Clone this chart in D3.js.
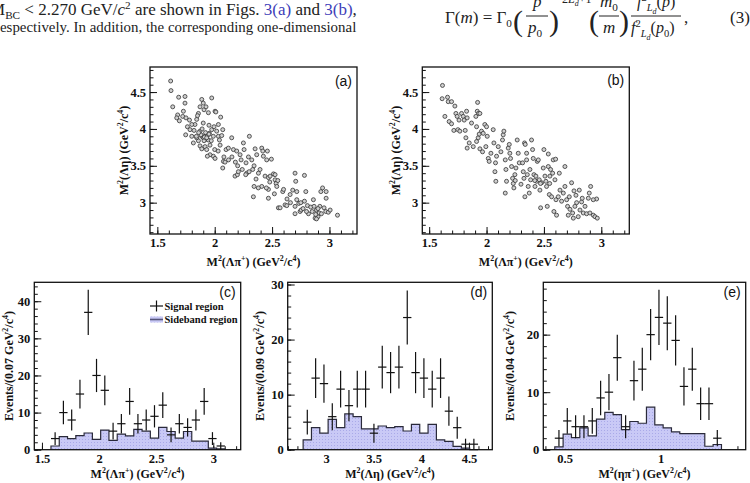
<!DOCTYPE html>
<html>
<head>
<meta charset="utf-8">
<script src="https://cdn.jsdelivr.net/npm/d3@7"></script>
<style>
body { margin: 0; background: #fff; }
svg { display: block; }
</style>
</head>
<body>
<svg id="fig" width="750" height="483"></svg>
<script>
// Dalitz plot, signal region (a): [M2(Lambda pi+), M2(Lambda eta)]
const dalitzSignal = [
  [1.616,4.65],[1.619,4.52],[1.634,4.30],[1.686,4.43],[1.741,4.44],[1.677,4.19],[1.669,4.15],[1.692,4.11],
  [1.727,4.24],[1.741,4.35],[1.721,4.17],[1.75,4.15],[1.762,4.03],[1.785,3.99],[1.747,3.92],[1.80,3.90],
  [1.814,3.81],[1.828,4.06],[1.843,4.13],[1.858,4.21],[1.872,4.30],[1.887,4.40],[1.90,4.35],[1.907,4.26],
  [1.924,4.30],[1.945,4.22],[1.974,4.42],[2.003,4.24],[2.01,4.23],[2.052,4.16],[1.872,3.97],[1.887,3.90],
  [1.90,3.88],[1.916,3.90],[1.924,3.86],[1.936,3.91],[1.945,3.85],[1.907,3.84],[1.858,3.84],[1.843,3.88],
  [1.872,3.77],[1.887,3.73],[1.916,3.76],[1.93,3.72],[1.959,3.78],[1.953,3.94],[1.974,3.99],[1.988,3.90],
  [1.994,4.03],[2.017,3.97],[2.032,3.90],[2.041,3.85],[2.047,3.78],[2.032,4.06],[2.061,3.91],[2.07,3.99],
  [1.988,3.63],[1.959,3.65],[1.936,3.63],[2.003,3.60],[2.076,3.56],[2.07,3.47],[2.099,3.72],[2.119,3.74],
  [2.148,3.88],[2.163,3.72],[2.192,3.70],[2.177,3.36],[2.198,3.38],[2.206,3.42],[2.221,3.65],[2.23,3.58],
  [2.25,3.81],[2.256,3.72],[2.273,3.54],[2.279,3.40],[2.294,3.62],[2.302,3.90],[2.323,3.58],[2.331,3.45],
  [2.343,3.50],[2.352,3.73],[2.366,3.65],[2.343,3.22],[2.337,3.08],[2.381,3.40],[2.395,3.45],[2.41,3.74],
  [2.419,3.70],[2.424,3.63],[2.41,3.22],[2.439,3.36],[2.453,3.58],[2.459,3.70],[2.468,3.34],[2.483,3.36],
  [2.494,3.59],[2.468,3.18],[2.468,3.06],[2.512,3.39],[2.526,3.31],[2.526,3.38],[2.535,3.26],[2.541,3.22],
  [2.555,2.93],[2.57,2.93],[2.593,3.15],[2.613,2.97],[2.628,2.96],[2.657,3.11],[2.68,3.17],[2.70,3.40],
  [2.706,3.29],[2.715,3.15],[2.715,3.04],[2.70,2.95],[2.70,2.85],[2.733,2.99],[2.744,2.88],[2.753,2.90],
  [2.782,3.02],[2.794,3.15],[2.782,3.37],[2.808,2.96],[2.817,2.85],[2.837,2.94],[2.86,3.04],[2.887,2.90],
  [2.90,2.81],[2.916,2.95],[2.91,2.86],[2.925,3.15],[2.94,3.20],[2.953,2.93],[2.968,2.88],[2.971,3.06],
  [2.99,2.87],[2.971,3.15],[2.866,2.95],[2.875,2.79],[2.887,2.78],[3.07,2.83],[3.006,2.90],
  [1.88,3.92],[1.91,3.89],[1.93,3.88],[1.92,3.95],[1.95,3.93],[1.89,4.00],[1.86,3.95],[1.84,3.90],
  [1.90,4.08],[1.95,4.05],[1.97,3.84],[1.85,4.18],[1.80,4.06],[1.78,4.12],[1.82,3.98],[2.00,3.72],
  [2.03,3.70],[2.08,3.62],[2.12,3.58],[2.09,3.55],[2.15,3.62],[2.18,3.55],[2.20,3.50],[2.24,3.45],
  [2.27,3.38],[2.30,3.42],[2.36,3.32],[2.38,3.20],[2.45,3.20],[2.48,3.28],[2.52,3.12],[2.55,3.30],
  [2.60,3.18],[2.63,3.05],[2.66,3.00],[2.75,3.00],[2.77,2.92],[2.80,2.88],[2.85,2.88],[2.88,2.84],
  [2.90,2.92],[2.93,2.85]
];

// Dalitz plot, sideband region (b)
const dalitzSideband = [
  [1.616,4.59],[1.613,4.41],[1.637,4.17],[1.66,4.43],[1.666,4.37],[1.695,4.37],[1.674,4.10],[1.695,4.07],
  [1.715,3.98],[1.724,4.31],[1.733,4.21],[1.744,4.17],[1.76,4.12],[1.75,3.99],[1.767,3.97],[1.782,4.21],
  [1.797,4.17],[1.805,4.12],[1.814,3.98],[1.826,4.24],[1.831,4.15],[1.82,3.88],[1.831,3.74],[1.849,3.81],
  [1.869,4.08],[1.884,3.76],[1.913,4.03],[1.907,4.17],[1.919,4.24],[1.93,4.21],[1.942,4.21],[1.922,4.36],
  [1.913,3.83],[1.927,3.88],[1.936,3.93],[1.956,3.97],[1.971,3.94],[1.942,3.73],[1.965,3.69],[1.985,4.06],
  [2.00,4.03],[2.006,3.90],[1.994,3.76],[2.015,3.60],[2.023,3.56],[2.038,3.67],[2.058,3.99],[2.064,3.81],
  [2.078,3.54],[2.073,3.42],[2.081,3.29],[2.087,3.63],[2.102,3.76],[2.125,3.69],[2.139,3.85],[2.145,3.92],
  [2.151,3.97],[2.163,3.58],[2.169,3.45],[2.163,3.13],[2.174,3.29],[2.189,3.74],[2.198,3.79],[2.203,3.67],
  [2.209,3.60],[2.218,3.49],[2.227,3.33],[2.233,3.26],[2.238,3.20],[2.247,3.38],[2.256,3.47],[2.267,3.85],
  [2.276,3.67],[2.285,3.54],[2.314,3.54],[2.32,3.42],[2.326,3.33],[2.331,3.81],[2.337,3.79],[2.349,3.67],
  [2.349,3.58],[2.355,3.38],[2.363,3.22],[2.372,3.13],[2.334,3.08],[2.378,3.45],[2.384,3.31],[2.392,3.85],
  [2.401,3.72],[2.407,3.60],[2.413,3.38],[2.422,3.22],[2.43,3.36],[2.436,3.29],[2.442,3.56],[2.451,3.58],
  [2.459,3.31],[2.465,3.17],[2.471,2.93],[2.48,3.27],[2.494,3.47],[2.50,3.72],[2.509,3.36],[2.517,3.29],
  [2.523,3.22],[2.529,2.95],[2.538,3.49],[2.538,3.66],[2.547,3.11],[2.552,3.36],[2.558,3.45],[2.567,3.08],
  [2.576,3.40],[2.581,3.58],[2.587,2.88],[2.596,3.31],[2.602,3.59],[2.605,3.04],[2.61,2.83],[2.625,3.08],
  [2.634,3.40],[2.64,3.17],[2.654,3.02],[2.669,3.13],[2.683,3.49],[2.683,3.22],[2.698,3.04],[2.706,2.95],
  [2.712,2.83],[2.721,3.08],[2.727,2.91],[2.741,3.27],[2.75,2.86],[2.756,2.79],[2.762,3.16],[2.77,2.95],
  [2.779,3.10],[2.785,3.00],[2.799,2.81],[2.808,3.17],[2.814,2.90],[2.828,3.01],[2.834,3.06],[2.843,2.86],
  [2.858,2.95],[2.872,2.85],[2.887,3.06],[2.895,3.13],[2.901,2.86],[2.907,3.22],[2.93,2.83],[2.945,2.81],
  [2.959,3.05],[2.965,2.79],[2.93,3.04],[2.25,3.30],[2.30,3.25],[2.42,3.30],[2.47,3.26],[2.55,3.26]
];

// 1-D projections: bin start, bin width, signal counts, sideband counts
const binsC = { start: 1.579, width: 0.0725 };
const signalC = [3, 10, 8, 15, 37, 20, 16, 5, 7, 13, 7, 8, 9, 12, 4, 7, 6, 8, 13, 3, 1];
const sidebandC = [1, 3.5, 3, 3.8, 4.5, 2.8, 5.3, 2.5, 4.2, 3.7, 5.5, 5, 3.1, 6, 4.9, 3.1, 4.9, 2.3, 2.3, 0.4, 0.2];

const binsD = { start: 2.760, width: 0.0874 };
const signalD = [5, 13, 12, 6, 11, 8, 11, 11, 3, 15, 14, 15, 24, 14, 13, 11, 13, 7, 4, 1, 1];
const sidebandD = [1.8, 4, 3, 5.5, 4, 6.5, 6, 3.8, 3.8, 4.3, 4, 4.2, 3.4, 4.6, 3, 4.6, 1.8, 1.5, 0.6, 0.3, 0];

const binsE = { start: 0.4488, width: 0.0434 };
const signalE = [2, 5, 4, 4, 5, 9, 10, 16, 4, 12, 14, 20, 23, 22, 19, 11, 14, 8, 8, 2];
const sidebandE = [0.5, 2.7, 2.1, 3.8, 2.4, 5.3, 6.5, 6.1, 3.5, 4.9, 4.6, 7.4, 4.3, 3.8, 3.1, 2.8, 2.8, 2.8, 0.6, 0.9];

// tick labels
const ticksM2LamPi = [1.5, 2, 2.5, 3];
const ticksM2LamEta = [3, 3.5, 4, 4.5];
const ticksM2EtaPi = [0.5, 1];
const ticksEventsC = [0, 10, 20, 30, 40];
const ticksEventsD = [0, 10, 20, 30];
const ticksEventsE = [0, 10, 20];

const svg = d3.select("#fig");
const serif = '"Liberation Serif", "Times New Roman", serif';
const sans = '"Liberation Sans", Arial, sans-serif';

// write a text made of normal / sup / sub pieces
function rich(t, parts, size) {
  let shift = 0;
  parts.forEach(p => {
    const kind = p[1] || "";
    const small = kind === "sup" || kind === "sub" || kind === "subsub";
    const target = kind === "sup" ? -size * 0.38 : kind === "sub" ? size * 0.25 : kind === "subsub" ? size * 0.42 : 0;
    const ts = t.append("tspan").attr("dy", target - shift).text(p[0]);
    shift = target;
    if (small) ts.attr("font-size", kind === "subsub" ? size * 0.5 : size * 0.66);
    if (p[2]) Object.keys(p[2]).forEach(k => ts.attr(k, p[2][k]));
  });
  return t;
}

function panel(box, xDom, yDom, xMajor, xMinor, yMajor, yMinor) {
  const x = d3.scaleLinear().domain(xDom).range([box.x, box.x + box.w]);
  const y = d3.scaleLinear().domain(yDom).range([box.y + box.h, box.y]);
  const g = svg.append("g");
  const fmt = d => String(d);
  g.append("g").attr("transform", "translate(0," + (box.y + box.h) + ")")
    .call(d3.axisBottom(x).tickValues(xMinor).tickSize(-3.5).tickFormat(""));
  g.append("g").attr("transform", "translate(0," + (box.y + box.h) + ")")
    .call(d3.axisBottom(x).tickValues(xMajor).tickSize(-7).tickPadding(4).tickFormat(fmt));
  g.append("g").attr("transform", "translate(" + box.x + ",0)")
    .call(d3.axisLeft(y).tickValues(yMinor).tickSize(-3.5).tickFormat(""));
  g.append("g").attr("transform", "translate(" + box.x + ",0)")
    .call(d3.axisLeft(y).tickValues(yMajor).tickSize(-7).tickPadding(4).tickFormat(fmt));
  g.selectAll(".domain").remove();
  g.selectAll(".tick line").attr("stroke", "#111").attr("stroke-width", 1);
  g.selectAll(".tick text")
    .attr("font-family", serif).attr("font-weight", "bold")
    .attr("font-size", 12.5).attr("fill", "#111");
  return { x, y, g, box };
}

function frame(p) {
  p.g.append("rect")
    .attr("x", p.box.x).attr("y", p.box.y)
    .attr("width", p.box.w).attr("height", p.box.h)
    .attr("fill", "none").attr("stroke", "#111").attr("stroke-width", 1.3);
}

function tag(p, label, dy) {
  p.g.append("text")
    .attr("x", p.box.x + p.box.w - 5).attr("y", p.box.y + dy)
    .attr("text-anchor", "end")
    .attr("font-family", sans).attr("font-size", 14).attr("fill", "#111")
    .text(label);
}

function xTitle(p, parts, yPos) {
  rich(p.g.append("text")
    .attr("x", p.box.x + p.box.w / 2).attr("y", yPos)
    .attr("text-anchor", "middle")
    .attr("font-family", serif).attr("font-weight", "bold").attr("font-size", 12)
    .attr("fill", "#111"), parts, 12);
}

function yTitle(p, parts, xPos) {
  rich(p.g.append("text")
    .attr("transform", "translate(" + xPos + "," + (p.box.y + p.box.h / 2) + ") rotate(-90)")
    .attr("text-anchor", "middle")
    .attr("font-family", serif).attr("font-weight", "bold").attr("font-size", 12)
    .attr("fill", "#111"), parts, 12);
}

function scatter(p, pts) {
  p.g.append("g").selectAll("circle")
    .data(pts).enter().append("circle")
    .attr("cx", d => p.x(d[0]))
    .attr("cy", d => p.y(d[1]))
    .attr("r", 2)
    .attr("fill", "#cfcfcf")
    .attr("stroke", "#333")
    .attr("stroke-width", 0.8);
}

function sideband(p, bins, counts) {
  const steps = [[bins.start, 0]];
  counts.forEach((c, i) => {
    steps.push([bins.start + i * bins.width, c]);
    steps.push([bins.start + (i + 1) * bins.width, c]);
  });
  steps.push([bins.start + counts.length * bins.width, 0]);
  const area = d3.area().x(d => p.x(d[0])).y0(p.y(0)).y1(d => p.y(d[1]));
  const line = d3.line().x(d => p.x(d[0])).y(d => p.y(d[1]));
  p.g.append("path").datum(steps).attr("d", area).attr("fill", "url(#dots)");
  p.g.append("path").datum(steps).attr("d", line)
    .attr("fill", "none").attr("stroke", "#2a2a3a").attr("stroke-width", 1.2);
}

function signal(p, bins, counts) {
  const eb = p.g.append("g").attr("stroke", "#111").attr("stroke-width", 1.2);
  counts.forEach((c, i) => {
    if (c <= 0) return;
    const lo = bins.start + i * bins.width, hi = lo + bins.width, mid = lo + bins.width / 2;
    const err = Math.sqrt(c);
    eb.append("line")
      .attr("x1", p.x(mid)).attr("x2", p.x(mid))
      .attr("y1", p.y(Math.max(0, c - err))).attr("y2", p.y(c + err));
    eb.append("line")
      .attr("x1", p.x(lo)).attr("x2", p.x(hi))
      .attr("y1", p.y(c)).attr("y2", p.y(c));
  });
}

// dotted fill of the sideband histograms
const defs = svg.append("defs");
const pat = defs.append("pattern").attr("id", "dots")
  .attr("width", 3).attr("height", 3).attr("patternUnits", "userSpaceOnUse");
pat.append("rect").attr("width", 3).attr("height", 3).attr("fill", "#c9c9f6");
pat.append("rect").attr("x", 1).attr("y", 1).attr("width", 1).attr("height", 1).attr("fill", "#a9a9e8");

const massLamPi = [["M"], ["2", "sup"], ["(Λπ"], ["+", "sup"], [") (GeV"], ["2", "sup"], ["/c"], ["4", "sup"], [")"]];
const massLamEta = [["M"], ["2", "sup"], ["(Λη) (GeV"], ["2", "sup"], ["/c"], ["4", "sup"], [")"]];
const massEtaPi = [["M"], ["2", "sup"], ["(ηπ"], ["+", "sup"], [") (GeV"], ["2", "sup"], ["/c"], ["4", "sup"], [")"]];
const events = w => [["Events/(" + w + " GeV"], ["2", "sup"], ["/c"], ["4", "sup"], [")"]];

// (a) and (b) Dalitz plots
const pa = panel({ x: 150, y: 67, w: 207, h: 167 }, [1.436, 3.24], [2.575, 4.84],
  ticksM2LamPi, d3.range(1.5, 3.25, 0.1), ticksM2LamEta, d3.range(2.6, 4.85, 0.1));
scatter(pa, dalitzSignal);
frame(pa);
tag(pa, "(a)", 19);
xTitle(pa, massLamPi, 266);
yTitle(pa, massLamEta, 128);

const pb = panel({ x: 422.3, y: 67, w: 207, h: 167 }, [1.44, 3.244], [2.575, 4.84],
  ticksM2LamPi, d3.range(1.5, 3.25, 0.1), ticksM2LamEta, d3.range(2.6, 4.85, 0.1));
scatter(pb, dalitzSideband);
frame(pb);
tag(pb, "(b)", 18);
xTitle(pb, massLamPi, 266);
yTitle(pb, massLamEta, 400);

// (c) M2(Lambda pi+)
const pc = panel({ x: 34.3, y: 282.3, w: 206.4, h: 167.4 }, [1.433, 3.24], [0, 45.1],
  ticksM2LamPi, d3.range(1.5, 3.25, 0.1), ticksEventsC, d3.range(0, 45, 2));
sideband(pc, binsC, sidebandC);
signal(pc, binsC, signalC);
frame(pc);
tag(pc, "(c)", 15);
xTitle(pc, massLamPi, 478);
yTitle(pc, events("0.07"), 13);

// legend of (c)
const lg = pc.g.append("g");
lg.append("line").attr("x1", 150).attr("x2", 163).attr("y1", 306).attr("y2", 306)
  .attr("stroke", "#111").attr("stroke-width", 1.2);
lg.append("line").attr("x1", 156.5).attr("x2", 156.5).attr("y1", 300.5).attr("y2", 311.5)
  .attr("stroke", "#111").attr("stroke-width", 1.2);
lg.append("rect").attr("x", 150).attr("y", 316.5).attr("width", 13).attr("height", 6)
  .attr("fill", "url(#dots)");
lg.append("line").attr("x1", 150).attr("x2", 163).attr("y1", 319.5).attr("y2", 319.5)
  .attr("stroke", "#55557a").attr("stroke-width", 1.6);
lg.append("text").attr("x", 164.5).attr("y", 309.5)
  .attr("font-family", serif).attr("font-weight", "bold").attr("font-size", 10.5).attr("fill", "#111")
  .text("Signal region");
lg.append("text").attr("x", 164.5).attr("y", 323)
  .attr("font-family", serif).attr("font-weight", "bold").attr("font-size", 10.5).attr("fill", "#111")
  .text("Sideband region");

// (d) M2(Lambda eta)
const pd = panel({ x: 287.7, y: 282.3, w: 204.6, h: 167.4 }, [2.598, 4.745], [0, 30.4],
  ticksM2LamEta, d3.range(2.6, 4.75, 0.1), ticksEventsD, d3.range(0, 30.5, 2));
sideband(pd, binsD, sidebandD);
signal(pd, binsD, signalD);
frame(pd);
tag(pd, "(d)", 15);
xTitle(pd, massLamEta, 478);
yTitle(pd, events("0.09"), 264);

// (e) M2(eta pi+)
const pe = panel({ x: 543.3, y: 282.3, w: 202.4, h: 167.4 }, [0.389, 1.443], [0, 29.1],
  ticksM2EtaPi, d3.range(0.4, 1.45, 0.1), ticksEventsE, d3.range(0, 29, 2));
sideband(pe, binsE, sidebandE);
signal(pe, binsE, signalE);
frame(pe);
tag(pe, "(e)", 15);
xTitle(pe, massEtaPi, 478);
yTitle(pe, events("0.04"), 514);

// cropped page text above the figure; each line scaled to its column width
const page = svg.append("g").attr("font-family", serif).attr("fill", "#222");
const link = { fill: "#3d3db8" };
const it = { "font-style": "italic" };

function fitLine(x0, y0, width, build) {
  const g = page.append("g");
  const t = g.append("text").attr("x", 0).attr("y", 0).attr("font-size", 16);
  build(t);
  const w = t.node().getBBox().width;
  g.attr("transform", "translate(" + x0 + "," + y0 + ") scale(" + (width / w) + ")");
}

fitLine(-10, 15, 367, t => rich(t,
  [["M"], ["BC", "sub"], [" < 2.270 GeV/"], ["c", "", it], ["2", "sup"],
   [" are shown in Figs. "], ["3(a)", "", link], [" and "], ["3(b)", "", link], [","]], 16));
fitLine(0, 32, 357, t => t.text("espectively. In addition, the corresponding one-dimensional"));

// equation (3)
const eq = page.append("g").attr("font-size", 17);
rich(eq.append("text").attr("x", 445).attr("y", 23),
  [["Γ("], ["m", "", it], [") = Γ"], ["0", "sub"]], 17);
eq.append("text").attr("x", 513).attr("y", 31).attr("font-size", 30).text("(");
eq.append("text").attr("x", 533).attr("y", 7).attr("font-style", "italic").text("p");
eq.append("line").attr("x1", 526).attr("x2", 548).attr("y1", 16).attr("y2", 16).attr("stroke", "#222");
rich(eq.append("text").attr("x", 528).attr("y", 33), [["p", "", it], ["0", "sub"]], 17);
eq.append("text").attr("x", 549).attr("y", 31).attr("font-size", 30).text(")");
rich(eq.append("text").attr("x", 562).attr("y", 3).attr("font-size", 12),
  [["2"], ["L", "", it], ["d", "sub", it], ["+1"]], 12);
eq.append("text").attr("x", 589).attr("y", 31).attr("font-size", 30).text("(");
rich(eq.append("text").attr("x", 600).attr("y", 7), [["m", "", it], ["0", "sub"]], 17);
eq.append("line").attr("x1", 599).attr("x2", 619).attr("y1", 16).attr("y2", 16).attr("stroke", "#222");
eq.append("text").attr("x", 603).attr("y", 33).attr("font-style", "italic").text("m");
eq.append("text").attr("x", 619).attr("y", 31).attr("font-size", 30).text(")");
rich(eq.append("text").attr("x", 637).attr("y", 7).attr("font-size", 16),
  [["f", "", it], ["2", "sup"], ["L", "sub", it], ["d", "subsub", it], ["("], ["p", "", it], [")"]], 16);
eq.append("line").attr("x1", 631).attr("x2", 681).attr("y1", 16).attr("y2", 16).attr("stroke", "#222");
rich(eq.append("text").attr("x", 631).attr("y", 33).attr("font-size", 16),
  [["f", "", it], ["2", "sup"], ["L", "sub", it], ["d", "subsub", it], ["("], ["p", "", it], ["0", "sub"], [")"]], 16);
eq.append("text").attr("x", 684).attr("y", 23).text(",");
eq.append("text").attr("x", 730).attr("y", 23).text("(3)");
</script>
</body>
</html>
